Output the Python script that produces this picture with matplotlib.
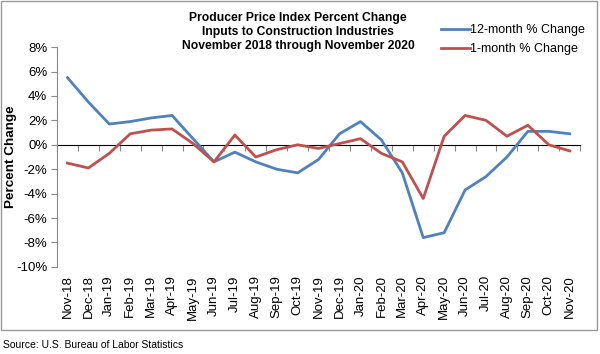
import matplotlib
matplotlib.use("Agg")
import matplotlib.pyplot as plt
from matplotlib.patches import Rectangle
from matplotlib.ticker import FuncFormatter

plt.rcParams['font.family'] = ['Liberation Sans', 'DejaVu Sans']

months = ["Nov-18", "Dec-18", "Jan-19", "Feb-19", "Mar-19", "Apr-19", "May-19",
          "Jun-19", "Jul-19", "Aug-19", "Sep-19", "Oct-19", "Nov-19", "Dec-19",
          "Jan-20", "Feb-20", "Mar-20", "Apr-20", "May-20", "Jun-20", "Jul-20",
          "Aug-20", "Sep-20", "Oct-20", "Nov-20"]
change_12m = [5.5, 3.5, 1.7, 1.9, 2.2, 2.4, 0.5, -1.4, -0.6, -1.4, -2.0, -2.3, -1.2,
              0.9, 1.9, 0.4, -2.3, -7.6, -7.2, -3.7, -2.6, -1.0, 1.1, 1.1, 0.9]
change_1m = [-1.5, -1.9, -0.7, 0.9, 1.2, 1.3, 0.1, -1.4, 0.8, -1.0, -0.4, 0.0, -0.3,
             0.1, 0.5, -0.7, -1.4, -4.4, 0.7, 2.4, 2.0, 0.7, 1.6, 0.0, -0.5]

fig = plt.figure(figsize=(6, 3.54), dpi=100)
ax = fig.add_axes([0.095, 0.246, 0.872, 0.621])

x = range(len(months))
ax.plot(x, change_12m, color="#4F81BD", lw=2.0, label="12-month % Change")
ax.plot(x, change_1m, color="#C0504D", lw=2.0, label="1-month % Change")

ax.set_ylim(-10, 8)
ax.set_xlim(-0.5, len(months) - 0.5)
ax.set_yticks(range(-10, 9, 2))
ax.yaxis.set_major_formatter(FuncFormatter(lambda v, p: f"{v:.0f}%"))
ax.tick_params(axis="y", labelsize=9.5, length=4, color="#888888", pad=3)

# month labels at the bottom, no line there
ax.set_xticks(list(x))
ax.set_xticklabels(months, rotation=90, fontsize=9.5)
ax.tick_params(axis="x", length=0, pad=6)
for s in ["top", "right", "bottom"]:
    ax.spines[s].set_visible(False)
ax.spines["left"].set_color("#888888")

# axis line at 0% with tick marks between categories
zero_ax = ax.secondary_xaxis(10 / 18)
zero_ax.spines["bottom"].set_color("#888888")
zero_ax.set_xticks([i + 0.5 for i in range(-1, len(months))])
zero_ax.xaxis.set_ticks_position("bottom")
zero_ax.tick_params(length=4, color="#888888", direction="out",
                    labelbottom=False, labeltop=False)

ax.set_ylabel("Percent Change", fontsize=9.7, fontweight="bold")
ax.yaxis.set_label_coords(-0.077, 0.5)

fig.text(0.497, 0.965, "Producer Price Index Percent Change\nInputs to Construction Industries\nNovember 2018 through November 2020",
         ha="center", va="top", fontsize=8.7, fontweight="bold", linespacing=1.2)

ax.legend(loc="upper left", bbox_to_anchor=(0.725, 1.127), frameon=False, fontsize=9,
          handlelength=2.3, labelspacing=0.55, handletextpad=0.0, borderaxespad=0)

fig.patches.append(Rectangle((0.002, 1 - 330 / 354), 0.993, 330 / 354 - 0.004,
                             transform=fig.transFigure, fill=False,
                             edgecolor="#999999", lw=1))
fig.text(0.005, 0.025, "Source: U.S. Bureau of Labor Statistics", fontsize=7.5, va="center")

fig.savefig("out.png", dpi=100)
